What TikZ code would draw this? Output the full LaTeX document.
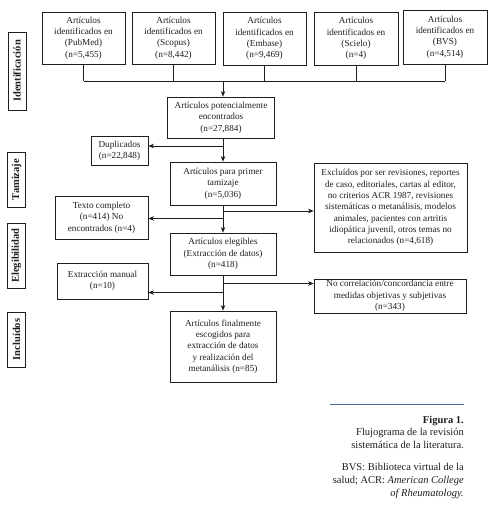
\documentclass[tikz,border=0pt]{standalone}
\usepackage{fontspec}
\setmainfont{Liberation Serif}
\usetikzlibrary{arrows.meta}
\definecolor{capblue}{RGB}{70,110,160}
\definecolor{ink}{RGB}{30,30,30}
\begin{document}
\begin{tikzpicture}[x=1pt,y=-1pt,
  box/.style={draw=ink, line width=0.75pt, align=center, inner sep=1pt, text=ink,
    font=\fontsize{9.2}{11.3}\selectfont},
  lab/.style={draw=ink, line width=0.9pt, rotate=90, inner sep=1pt, text=ink,
    font=\fontsize{10.5}{11}\selectfont\bfseries, minimum height=18},
  conn/.style={draw=ink, line width=0.75pt},
  arr/.style={conn, -{Stealth[length=5.5pt,width=4.5pt,inset=1.5pt]}},
  captxt/.style={align=right, inner sep=0pt, text=ink, font=\fontsize{10.5}{13}\selectfont}
]
\useasboundingbox (0,0) rectangle (492,509);

% phase labels
\node[lab, minimum width=78] (lid) at (17,71) {Identificación};
\node[lab, minimum width=55] (ltam) at (16.5,179.5) {Tamizaje};
\node[lab, minimum width=65] (lele) at (16.5,255.5) {Elegibilidad};
\node[lab, minimum width=55] (linc) at (16.5,339.5) {Incluídos};

% top boxes
\node[box, minimum width=83, minimum height=52] (pub) at (83.5,38) {Artículos\\identificados en\\(PubMed)\\(n=5,455)};
\node[box, minimum width=83, minimum height=52] (sco) at (173.5,38) {Artículos\\identificados en\\(Scopus)\\(n=8,442)};
\node[box, minimum width=83, minimum height=53] (emb) at (264.5,38.5) {Artículos\\identificados en\\(Embase)\\(n=9,469)};
\node[box, minimum width=84, minimum height=53] (sci) at (356,38.5) {Artículos\\identificados en\\(Scielo)\\(n=4)};
\node[box, minimum width=84, minimum height=54] (bvs) at (445,37) {Artículos\\identificados en\\(BVS)\\(n=4,514)};

% main column
\node[box, minimum width=107, minimum height=41] (pot) at (221,117.5) {Artículos potencialmente\\encontrados\\(n=27,884)};
\node[box, minimum width=106, minimum height=43] (para) at (223,183.5) {Artículos para primer\\tamizaje\\(n=5,036)};
\node[box, minimum width=106, minimum height=42] (ele) at (223,254) {Artículos elegibles\\(Extracción de datos)\\(n=418)};
\node[box, minimum width=106, minimum height=71] (fin) at (223,346.5) {Artículos finalmente\\escogidos para\\extracción de datos\\y realización del\\metanálisis (n=85)};

% side boxes
\node[box, minimum width=57, minimum height=29] (dup) at (119.5,150.5) {Duplicados\\(n=22,848)};
\node[box, minimum width=93, minimum height=43] (txt) at (101.5,217.5) {Texto completo\\(n=414) No\\encontrados (n=4)};
\node[box, minimum width=91, minimum height=36] (man) at (102.5,281) {Extracción manual\\(n=10)};
\node[box, minimum width=153, minimum height=89] (exc) at (390.5,207.5) {Excluídos por ser revisiones, reportes\\de caso, editoriales, cartas al editor,\\no criterios ACR 1987, revisiones\\sistemáticas o metanálisis, modelos\\animales, pacientes con artritis\\idiopática juvenil, otros temas no\\relacionados (n=4,618)};
\node[box, minimum width=152, minimum height=34] (noc) at (390,296) {No correlación/concordancia entre\\medidas objetivas y subjetivas\\(n=343)};

% connectors
\coordinate (bus) at (223,81);
\foreach \n in {pub,sco,emb,sci,bvs} \draw[conn] (\n.south) -- (\n.south |- bus);
\draw[conn] (pub.south |- bus) -- (bvs.south |- bus);
\draw[arr] (bus) -- (bus |- pot.north);

\coordinate (j1) at (223,146);
\draw[arr] (j1) -- (j1 -| dup.east);
\draw[arr] (pot.south -| bus) -- (para.north);

\coordinate (j2) at (223,211);
\coordinate (j3) at (223,218.5);
\draw[arr] (j2) -- (j2 -| exc.west);
\draw[arr] (j3) -- (j3 -| txt.east);
\draw[arr] (para.south) -- (ele.north);

\coordinate (j4) at (223,283.5);
\coordinate (j5) at (223,292.5);
\draw[arr] (j4) -- (j4 -| noc.west);
\draw[arr] (j5) -- (j5 -| man.east);
\draw[arr] (ele.south) -- (fin.north);

% caption
\coordinate (c1) at (330,404);
\coordinate (c2) at (464,404);
\draw[capblue, line width=0.8pt] (c1) -- (c2);
\node[captxt, anchor=north east, font=\fontsize{10.5}{13}\selectfont\bfseries] (fig) at (464,416) {Figura 1.};
\node[captxt, anchor=north east] (desc) at (464,428) {Flujograma de la revisión\\sistemática de la literatura.};
\node[captxt, anchor=north east] (note) at (464,463) {BVS: Biblioteca virtual de la\\salud; ACR: \textit{American College}\\\textit{of Rheumatology.}};
\end{tikzpicture}
\end{document}
